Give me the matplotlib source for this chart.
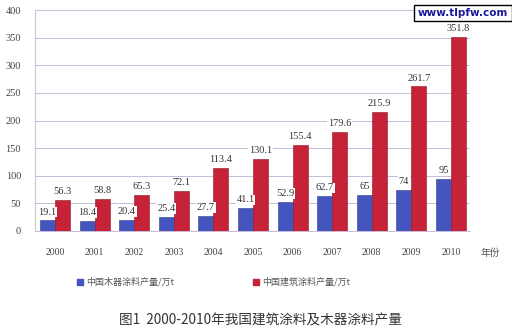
import matplotlib
matplotlib.use("Agg")
import matplotlib.pyplot as plt
import numpy as np

years = ["2000", "2001", "2002", "2003", "2004", "2005",
         "2006", "2007", "2008", "2009", "2010"]
wood = [19.1, 18.4, 20.4, 25.4, 27.7, 41.1, 52.9, 62.7, 65, 74, 95]
arch = [56.3, 58.8, 65.3, 72.1, 113.4, 130.1, 155.4, 179.6, 215.9, 261.7, 351.8]
wood_labels = ["19.1", "18.4", "20.4", "25.4", "27.7", "41.1",
               "52.9", "62.7", "65", "74", "95"]
arch_labels = ["56.3", "58.8", "65.3", "72.1", "113.4", "130.1",
               "155.4", "179.6", "215.9", "261.7", "351.8"]
yticks = [0, 50, 100, 150, 200, 250, 300, 350, 400]

CJK = ["Noto Sans CJK SC", "DejaVu Sans"]
SERIF = "Liberation Serif"

fig = plt.figure(figsize=(5.12, 3.35), dpi=100)
ax = fig.add_axes([35 / 512, 104 / 335, 435 / 512, 221 / 335])

x = np.arange(len(years))
w = 0.38
ax.bar(x - w / 2, wood, w, color="#4455bd", edgecolor="#2e3a8a", linewidth=0.4, zorder=3)
ax.bar(x + w / 2, arch, w, color="#c62338", edgecolor="#8a1524", linewidth=0.4, zorder=3)

box = dict(facecolor="white", edgecolor="none", pad=0.6)
for i in range(len(years)):
    ax.text(x[i] - w / 2, wood[i] + 7, wood_labels[i], ha="center", va="bottom",
            fontsize=7.5, family=SERIF, color="#333333", bbox=box, zorder=4)
    ax.text(x[i] + w / 2, arch[i] + 7, arch_labels[i], ha="center", va="bottom",
            fontsize=7.5, family=SERIF, color="#333333", bbox=box, zorder=4)

ax.set_xlim(-0.505, len(years) - 0.52)
ax.set_ylim(0, 400)
ax.set_yticks(yticks)
ax.set_yticklabels([str(v) for v in yticks], family=SERIF, fontsize=7.5, color="#444444")
ax.set_xticks(x)
ax.set_xticklabels(years, family=SERIF, fontsize=7, color="#444444")
ax.tick_params(length=0, pad=12)
ax.tick_params(axis="y", pad=10)
ax.grid(axis="y", color="#c8bcd8", linewidth=0.7, zorder=0)
for s in ["top", "right"]:
    ax.spines[s].set_visible(False)
ax.spines["left"].set_color("#c8c8d0")
ax.spines["bottom"].set_color("#c8bcd8")

fig.text(490 / 512, 1 - 253 / 335, "年份", family=CJK, fontsize=7,
         color="#555555", ha="center", va="center")

# legend
fig.patches.append(plt.Rectangle((77 / 512, 1 - 285 / 335), 6 / 512, 6 / 335,
                                 transform=fig.transFigure, color="#4455bd"))
fig.text(86 / 512, 1 - 282 / 335, "中国木器涂料产量/万t", family=CJK, fontsize=6.5,
         color="#555555", va="center")
fig.patches.append(plt.Rectangle((253 / 512, 1 - 285 / 335), 6 / 512, 6 / 335,
                                 transform=fig.transFigure, color="#c62338"))
fig.text(262 / 512, 1 - 282 / 335, "中国建筑涂料产量/万t", family=CJK, fontsize=6.5,
         color="#555555", va="center")

fig.text(260 / 512, 1 - 321 / 335, "图1  2000-2010年我国建筑涂料及木器涂料产量",
         family=CJK, fontsize=9.8, color="#333333", ha="center", va="center")

fig.text(463 / 512, 1 - 13 / 335, "www.tlpfw.com", family="DejaVu Sans", fontsize=7.5,
         fontweight="bold", color="#1a1a9a", ha="center", va="center",
         bbox=dict(facecolor="white", edgecolor="black", linewidth=1, pad=2.5))

fig.savefig("out.png", dpi=100)
